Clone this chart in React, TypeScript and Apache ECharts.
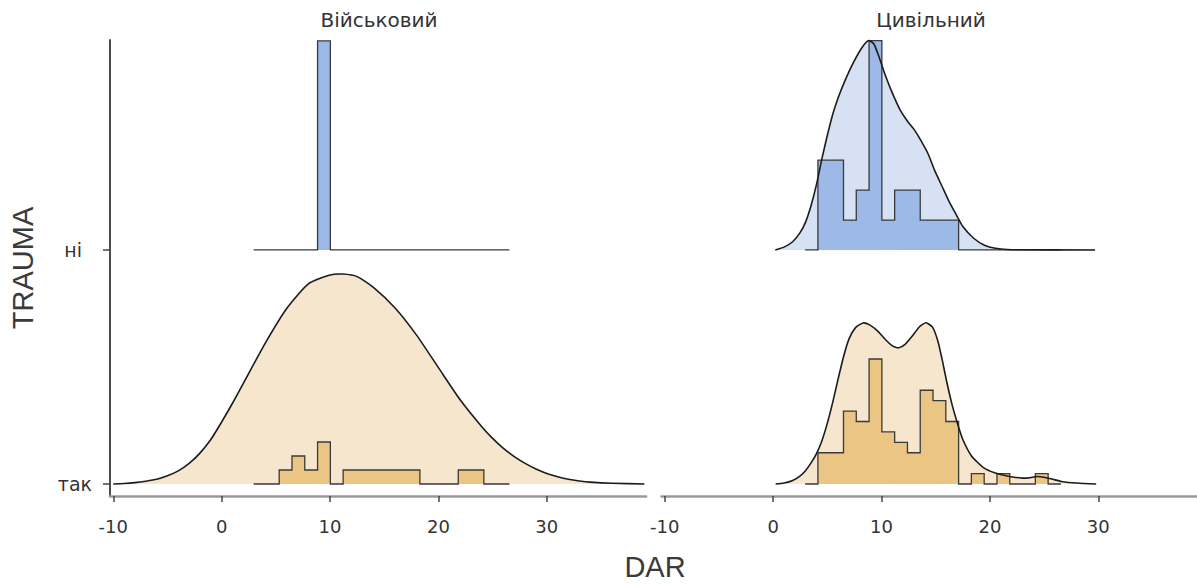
import React, { useEffect, useRef } from "react";
import * as echarts from "echarts";

// ---------------- data ----------------
const facets = ["Військовий", "Цивільний"];
const categories = ["так", "ні"]; // y positions 0 and 1
const xTicks = [-10, 0, 10, 20, 30];
const yTicks = [0, 1];

const binEdges = [
  2.95, 4.13, 5.31, 6.49, 7.67, 8.85, 10.03, 11.21, 12.39, 13.57, 14.75,
  15.93, 17.11, 18.29, 19.47, 20.65, 21.83, 23.01, 24.19, 25.37, 26.55,
];

// histogram counts per bin
const milNiCounts = [0, 0, 0, 0, 0, 1, 0, 0, 0, 0, 0, 0, 0, 0, 0, 0, 0, 0, 0, 0];
const milTakCounts = [0, 0, 1, 2, 1, 3, 0, 1, 1, 1, 1, 1, 1, 0, 0, 0, 1, 1, 0, 0];
const civNiCounts = [0, 3, 3, 1, 2, 7, 1, 2, 2, 1, 1, 1, 0, 0, 0, 0, 0, 0, 0, 0];
const civTakCounts = [0, 3, 3, 7, 6, 12, 5, 4, 3, 9, 8, 6, 0, 1, 0, 1, 0, 0, 1, 0];

// scaled densities (ridge height units)
const milTakDensX = [
  -10, -9, -8, -7, -6, -5, -4, -3, -2, -1, 0, 1, 2, 4, 6, 8, 10, 11.2, 12.5, 14,
  16, 18, 20, 22, 24, 25, 26, 27, 28, 29, 30, 31, 32, 33, 34, 36, 39,
];
const milTakDensY = [
  0, 0.002, 0.006, 0.012, 0.02, 0.035, 0.056, 0.088, 0.132, 0.19, 0.265, 0.345,
  0.43, 0.6, 0.75, 0.855, 0.893, 0.897, 0.886, 0.84, 0.752, 0.635, 0.497, 0.36,
  0.245, 0.195, 0.152, 0.117, 0.088, 0.064, 0.045, 0.031, 0.02, 0.013, 0.008,
  0.003, 0,
];

const civNiDensX = [
  0.2, 1.0, 1.8, 2.5, 3.0, 3.5, 4.0, 4.5, 5.0, 5.5, 6.0, 6.6, 7.4, 8.2, 8.8,
  9.3, 9.8, 10.4, 11.0, 11.7, 12.4, 13.0, 13.6, 14.3, 14.9, 15.6, 16.2, 16.9,
  17.5, 18.5, 19.5, 20.5, 22.0, 29.7,
];
const civNiDensY = [
  0, 0.012, 0.035, 0.075, 0.12, 0.19, 0.28, 0.39, 0.49, 0.58, 0.65, 0.72, 0.8,
  0.865, 0.895, 0.88, 0.82, 0.74, 0.67, 0.6, 0.55, 0.515, 0.47, 0.41, 0.34,
  0.27, 0.21, 0.15, 0.1, 0.05, 0.02, 0.007, 0.001, 0,
];

const civTakDensX = [
  0.23, 1.0, 1.8, 2.5, 3.0, 3.5, 4.0, 4.5, 5.0, 5.5, 6.0, 6.5, 7.0, 7.6, 8.3,
  8.9, 9.6, 10.4, 11.0, 11.6, 12.2, 12.8, 13.5, 14.1, 14.7, 15.2, 15.6, 16.0,
  16.5, 17.0, 17.5, 18.3, 19.4, 20.5, 21.8, 23.0, 23.7, 24.3, 25.0, 25.8, 26.6,
  28.0, 29.8,
];
const civTakDensY = [
  0, 0.004, 0.015, 0.035, 0.058, 0.09, 0.13, 0.185, 0.26, 0.35, 0.45, 0.545,
  0.62, 0.668, 0.688, 0.68, 0.655, 0.615, 0.59, 0.582, 0.598, 0.63, 0.672,
  0.689, 0.67, 0.61, 0.53, 0.44, 0.34, 0.26, 0.19, 0.12, 0.07, 0.047, 0.032,
  0.025, 0.027, 0.032, 0.029, 0.02, 0.011, 0.004, 0,
];

// ---------------- style ----------------
const BLUE_LIGHT = "#d6e1f3";
const BLUE_DARK = "#9cb9e8";
const ORANGE_LIGHT = "#f5e6cd";
const ORANGE_DARK = "#ebc584";
const TICK_FONT = "DejaVu Sans";
const TITLE_FONT = "Liberation Sans";

const X_MIN = -10.3;
const X_MAX = 39.15;
const Y_MIN = -0.0513;
const Y_MAX = 1.897;

function histPoints(counts: number[], base: number, perCount: number) {
  const pts: number[][] = [[binEdges[0], base]];
  counts.forEach((c, k) => {
    pts.push([binEdges[k], base + c * perCount]);
    pts.push([binEdges[k + 1], base + c * perCount]);
  });
  pts.push([binEdges[binEdges.length - 1], base]);
  return pts;
}

function densPoints(xs: number[], ys: number[], base: number) {
  return xs.map((x, i) => [x, base + ys[i]]);
}

function shapeSeries(
  gridIndex: number,
  pts: number[][],
  build: (px: number[][]) => any,
  z: number
) {
  return {
    type: "custom",
    coordinateSystem: "cartesian2d",
    xAxisIndex: gridIndex,
    yAxisIndex: gridIndex,
    data: pts,
    encode: { x: 0, y: 1 },
    silent: true,
    clip: false,
    z,
    renderItem: (params: any, api: any) => {
      if (params.dataIndex !== 0) return null;
      const px = pts.map((p) => api.coord(p));
      return build(px);
    },
  };
}

function ridge(
  gridIndex: number,
  base: number,
  counts: number[],
  perCount: number,
  light: string,
  dark: string,
  densX?: number[],
  densY?: number[]
) {
  const out: any[] = [];
  let dpts: number[][] | null = null;
  if (densX && densY) {
    dpts = densPoints(densX, densY, base);
    out.push(
      shapeSeries(
        gridIndex,
        dpts,
        (px) => ({
          type: "polygon",
          shape: { points: px, smooth: 0.2 },
          style: { fill: light, stroke: null },
        }),
        2
      )
    );
  }
  const hpts = histPoints(counts, base, perCount);
  out.push(
    shapeSeries(
      gridIndex,
      hpts,
      (px) => ({
        type: "group",
        children: [
          { type: "polygon", shape: { points: px }, style: { fill: dark, stroke: null } },
          {
            type: "polyline",
            shape: { points: px },
            style: { fill: null, stroke: "#3a3a3a", lineWidth: 1.3 },
          },
        ],
      }),
      3
    )
  );
  if (dpts) {
    out.push(
      shapeSeries(
        gridIndex,
        dpts,
        (px) => ({
          type: "polyline",
          shape: { points: px, smooth: 0.2 },
          style: { fill: null, stroke: "#1c1c1c", lineWidth: 1.6 },
        }),
        4
      )
    );
  }
  return out;
}

export default function App() {
  const ref = useRef<HTMLDivElement>(null);

  useEffect(() => {
    if (!ref.current) return;
    const chart = echarts.init(ref.current, undefined, { renderer: "svg" });

    const xAxisBase = (gridIndex: number) => ({
      type: "value",
      gridIndex,
      min: X_MIN,
      max: X_MAX,
      axisLine: { show: true, onZero: false, lineStyle: { color: "#9a9a9a", width: 2.5 } },
      axisTick: {
        show: true,
        customValues: xTicks,
        length: 6,
        lineStyle: { color: "#444", width: 1.5 },
      },
      axisLabel: {
        show: true,
        customValues: xTicks,
        margin: 21,
        fontSize: 18,
        fontFamily: TICK_FONT,
        color: "#333",
        formatter: (v: number) => String(Math.round(v)),
      },
      splitLine: { show: false },
    });

    const series = [
      ...ridge(0, 1, milNiCounts, 0.893, BLUE_LIGHT, BLUE_DARK),
      ...ridge(0, 0, milTakCounts, 0.0598, ORANGE_LIGHT, ORANGE_DARK, milTakDensX, milTakDensY),
      ...ridge(1, 1, civNiCounts, 0.1278, BLUE_LIGHT, BLUE_DARK, civNiDensX, civNiDensY),
      ...ridge(1, 0, civTakCounts, 0.0445, ORANGE_LIGHT, ORANGE_DARK, civTakDensX, civTakDensY),
    ];

    const titleStyle = (text: string) => ({
      text,
      fontSize: 20,
      fontFamily: TICK_FONT,
      fill: "#333",
      textAlign: "center",
      textVerticalAlign: "middle",
      align: "center",
      verticalAlign: "middle",
    });

    const axisTitleStyle = (text: string) => ({
      text,
      fontSize: 29,
      fontFamily: TITLE_FONT,
      fill: "#3a3a3a",
      textAlign: "center",
      textVerticalAlign: "middle",
      align: "center",
      verticalAlign: "middle",
    });

    chart.setOption({
      animation: false,
      backgroundColor: "#ffffff",
      grid: [
        { left: 110, top: 40, width: 536, height: 456, outerBoundsMode: "none", containLabel: false },
        { left: 661.5, top: 40, width: 536, height: 456, outerBoundsMode: "none", containLabel: false },
      ],
      xAxis: [xAxisBase(0), xAxisBase(1)],
      yAxis: [
        {
          type: "value",
          gridIndex: 0,
          min: Y_MIN,
          max: Y_MAX,
          axisLine: { show: true, onZero: false, lineStyle: { color: "#4d4d4d", width: 2 } },
          axisTick: {
            show: true,
            customValues: yTicks,
            length: 7,
            lineStyle: { color: "#444", width: 1.5 },
          },
          axisLabel: {
            show: true,
            customValues: yTicks,
            margin: 18,
            formatter: (v: number) =>
              Math.round(v) === 1 ? `{n|${categories[1]}}` : `{t|${categories[0]}}`,
            rich: {
              n: { fontSize: 19, fontFamily: TICK_FONT, color: "#333", padding: [0, 10, 0, 0] },
              t: { fontSize: 19, fontFamily: TICK_FONT, color: "#333" },
            },
          },
          splitLine: { show: false },
        },
        {
          type: "value",
          gridIndex: 1,
          min: Y_MIN,
          max: Y_MAX,
          show: false,
          splitLine: { show: false },
        },
      ],
      graphic: [
        { type: "text", x: 379, y: 20, silent: true, style: titleStyle(facets[0]) },
        { type: "text", x: 931, y: 20, silent: true, style: titleStyle(facets[1]) },
        { type: "text", x: 655, y: 567, silent: true, style: axisTitleStyle("DAR") },
        {
          type: "text",
          x: 23,
          y: 268,
          rotation: Math.PI / 2,
          silent: true,
          style: axisTitleStyle("TRAUMA"),
        },
      ],
      series,
    });

    return () => {
      chart.dispose();
    };
  }, []);

  return (
    <div
      ref={ref}
      style={{
        position: "fixed",
        left: 0,
        top: 0,
        width: 1197,
        height: 585,
        background: "#fff",
      }}
    />
  );
}
